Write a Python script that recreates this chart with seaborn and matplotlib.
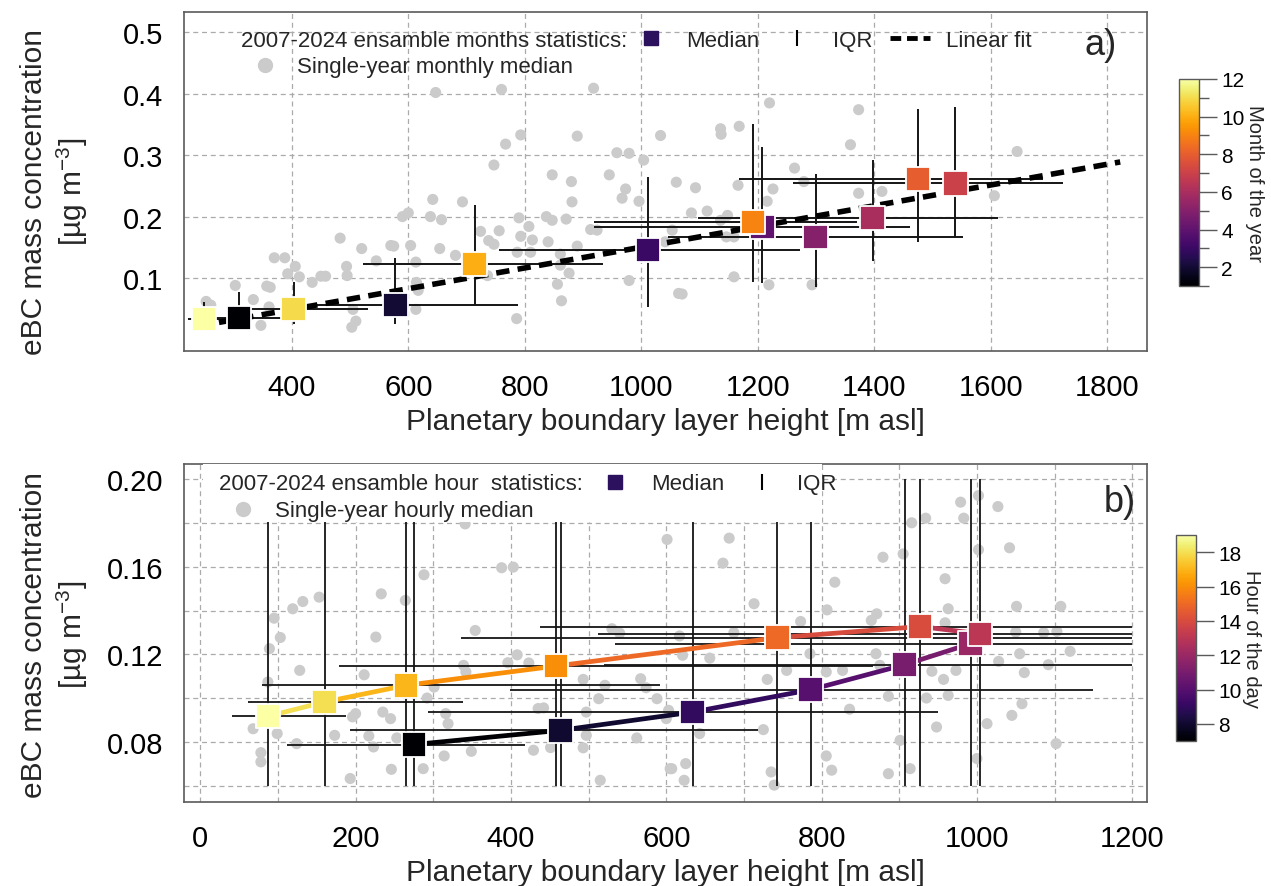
import numpy as np
import pandas as pd
import matplotlib
matplotlib.use("Agg")
import matplotlib.pyplot as plt
import seaborn as sns
from matplotlib.collections import LineCollection
from matplotlib.lines import Line2D
from matplotlib.patches import Rectangle
from matplotlib.colors import Normalize
from matplotlib.cm import ScalarMappable
from matplotlib.ticker import FixedLocator, MultipleLocator, FormatStrFormatter

# ---------------- monthly statistics (panel a) ----------------
months = [1, 2, 3, 4, 5, 6, 7, 8, 9, 10, 11, 12]
month_pblh = [309, 578, 1011, 1208, 1299, 1397, 1539, 1475, 1192, 714, 403, 249]
month_ebc = [0.035, 0.056, 0.146, 0.183, 0.167, 0.198, 0.254, 0.261, 0.191, 0.123, 0.050, 0.033]
month_pblh_q1 = [258, 430, 755, 918, 1045, 1098, 1261, 1168, 918, 522, 330, 222]
month_pblh_q3 = [381, 788, 1273, 1462, 1553, 1613, 1724, 1690, 1371, 935, 530, 300]
month_ebc_q1 = [0.020, 0.025, 0.053, 0.092, 0.085, 0.128, 0.167, 0.159, 0.094, 0.056, 0.025, 0.020]
month_ebc_q3 = [0.077, 0.133, 0.264, 0.313, 0.269, 0.292, 0.378, 0.375, 0.350, 0.219, 0.094, 0.061]
fit_range = [275, 1822]

# single-year monthly medians
yr_month_pblh = [647, 760, 918, 793, 767, 890, 1033, 747, 958, 979, 1004, 847, 945, 880, 973,
                 881, 967, 996, 1060, 642, 693, 590, 600, 638, 657, 790, 837, 847, 871, 807,
                 793, 813, 840, 890, 913, 924, 724, 756, 738, 747, 787, 810, 861, 861, 876,
                 856, 863, 979, 1064, 786, 483, 520, 570, 575, 604, 654, 681, 545, 494, 613,
                 495, 370, 388, 406, 393, 413, 435, 450, 458, 303, 357, 363, 334, 361, 347,
                 253, 261, 505, 510, 503, 614, 617, 613, 736, 1093, 1086, 1113, 1136, 1137,
                 1168, 1220, 1263, 1279, 1226, 1216, 1166, 1148, 1136, 1146, 1159, 1053, 1041,
                 1159, 1070, 1219, 1293, 1359, 1373, 1373, 1413, 1645, 1606]
yr_month_ebc = [0.402, 0.407, 0.409, 0.333, 0.318, 0.331, 0.332, 0.284, 0.304, 0.303, 0.292,
                0.268, 0.268, 0.257, 0.245, 0.224, 0.230, 0.225, 0.256, 0.228, 0.224, 0.200,
                0.206, 0.200, 0.195, 0.198, 0.200, 0.194, 0.196, 0.184, 0.168, 0.162, 0.159,
                0.152, 0.179, 0.178, 0.176, 0.177, 0.161, 0.155, 0.142, 0.142, 0.139, 0.121,
                0.108, 0.090, 0.063, 0.096, 0.075, 0.034, 0.165, 0.148, 0.153, 0.152, 0.153,
                0.148, 0.137, 0.128, 0.119, 0.126, 0.104, 0.133, 0.133, 0.119, 0.107, 0.102,
                0.093, 0.103, 0.103, 0.088, 0.087, 0.085, 0.065, 0.053, 0.023, 0.062, 0.056,
                0.049, 0.030, 0.020, 0.093, 0.080, 0.049, 0.104, 0.247, 0.206, 0.209, 0.343,
                0.334, 0.347, 0.385, 0.279, 0.257, 0.245, 0.225, 0.251, 0.202, 0.194, 0.167,
                0.167, 0.178, 0.159, 0.102, 0.074, 0.089, 0.089, 0.317, 0.374, 0.238, 0.241,
                0.306, 0.234]

# ---------------- hourly statistics (panel b) ----------------
hours = [7, 8, 9, 10, 11, 12, 13, 14, 15, 16, 17, 18, 19]
hour_pblh = [275, 464, 634, 786, 907, 992, 1004, 927, 743, 458, 265, 160, 87]
hour_ebc = [0.0789, 0.0854, 0.0937, 0.1039, 0.1153, 0.1249, 0.1294, 0.1327, 0.1276, 0.1147,
            0.1059, 0.0983, 0.0918]
hour_pblh_q1 = [111, 193, 293, 399, 520, 534, 512, 437, 336, 179, 80, 62, 41]
hour_pblh_q3 = [418, 718, 950, 1150, 1200, 1200, 1200, 1200, 1200, 866, 592, 338, 187]
hour_ebc_q1 = [0.060, 0.060, 0.060, 0.060, 0.060, 0.060, 0.060, 0.060, 0.060, 0.060, 0.060,
               0.060, 0.060]
hour_ebc_q3 = [0.200, 0.200, 0.200, 0.200, 0.200, 0.200, 0.200, 0.200, 0.200, 0.200, 0.200,
               0.200, 0.200]

# single-year hourly medians
yr_hour_pblh = [341, 601, 288, 388, 403, 233, 264, 153, 132, 119, 95, 103, 89, 128, 87, 68, 78,
                78, 99, 124, 173, 226, 211, 196, 200, 217, 223, 193, 235, 245, 253, 246, 287,
                292, 301, 316, 319, 314, 339, 342, 349, 354, 396, 408, 423, 435, 442, 429, 451,
                493, 493, 497, 513, 521, 515, 530, 540, 562, 567, 574, 588, 603, 605, 497, 681,
                673, 817, 713, 773, 807, 864, 871, 687, 617, 621, 656, 730, 755, 785, 806, 827,
                836, 600, 643, 607, 625, 623, 725, 735, 739, 806, 813, 870, 875, 886, 901, 914,
                886, 879, 905, 916, 934, 979, 983, 1002, 1027, 1002, 1042, 959, 963, 959, 942,
                957, 973, 963, 935, 1028, 1055, 1061, 1092, 1120, 1051, 1108, 1050, 1086, 1103,
                1058, 1045, 1013, 948, 1102, 1000]
yr_hour_ebc = [0.1795, 0.1724, 0.1563, 0.1595, 0.1598, 0.1476, 0.1446, 0.1461, 0.1441, 0.1408,
               0.1365, 0.1277, 0.1226, 0.1127, 0.1074, 0.0861, 0.0752, 0.0710, 0.0839, 0.0793,
               0.0831, 0.1279, 0.1107, 0.0915, 0.0930, 0.0828, 0.0778, 0.0634, 0.0937, 0.0907,
               0.0819, 0.0676, 0.0679, 0.1001, 0.1051, 0.0930, 0.0884, 0.0737, 0.1150, 0.1120,
               0.0758, 0.1309, 0.1162, 0.1198, 0.1161, 0.0953, 0.0956, 0.0763, 0.0775, 0.1086,
               0.0774, 0.0937, 0.0998, 0.1059, 0.0626, 0.1317, 0.1297, 0.0819, 0.1089, 0.1048,
               0.0998, 0.0945, 0.0679, 0.0831, 0.1730, 0.1616, 0.1529, 0.1431, 0.1350, 0.1403,
               0.1355, 0.1385, 0.1299, 0.1284, 0.1196, 0.1183, 0.1086, 0.1127, 0.1203, 0.1120,
               0.1127, 0.0950, 0.0907, 0.0839, 0.0679, 0.0702, 0.0626, 0.0857, 0.0664, 0.0604,
               0.0737, 0.0672, 0.1203, 0.1150, 0.1009, 0.0808, 0.0679, 0.0656, 0.1643, 0.1658,
               0.1800, 0.1821, 0.1894, 0.1821, 0.1924, 0.1874, 0.1677, 0.1686, 0.1545, 0.1408,
               0.1344, 0.1123, 0.1086, 0.1127, 0.1013, 0.1001, 0.1168, 0.1203, 0.1117, 0.1153,
               0.1214, 0.1419, 0.1419, 0.1302, 0.1299, 0.1305, 0.0975, 0.0922, 0.0884, 0.0869,
               0.0793, 0.0725]

# ---------------- styling ----------------
sns.set_theme(style="white")
plt.rcParams["font.family"] = ["Liberation Sans", "DejaVu Sans"]
plt.rcParams["mathtext.default"] = "regular"

GRAY = "#cbcbcb"
IQR_C = "#151515"
FRAME = "#5a5a5a"
GRID = "#ababab"
MEDIAN_LEG = "#2c115f"
cmap = plt.get_cmap("inferno")
norm_m = Normalize(1, 12)
norm_h = Normalize(7, 19)

W, H = 1271, 887
fig = plt.figure(figsize=(W / 100, H / 100), dpi=100)


def box(left, top, right, bottom):
    return [left / W, 1 - bottom / H, (right - left) / W, (bottom - top) / H]


ax1 = fig.add_axes(box(184, 13, 1147, 352))
ax2 = fig.add_axes(box(184, 465, 1147, 803))
cax1 = fig.add_axes(box(1179, 80, 1199, 287))
cax2 = fig.add_axes(box(1176, 536, 1196, 742))

# ---------------- panel a ----------------
sns.scatterplot(x=yr_month_pblh, y=yr_month_ebc, ax=ax1, color=GRAY, s=64,
                edgecolor="none", zorder=1, legend=False)
ax1.hlines(month_ebc, month_pblh_q1, month_pblh_q3, colors=IQR_C, lw=1.4, zorder=2)
ax1.vlines(month_pblh, month_ebc_q1, month_ebc_q3, colors=IQR_C, lw=1.4, zorder=2)
coef = np.polyfit(month_pblh, month_ebc, 1)
xfit = np.array(fit_range, dtype=float)
ax1.plot(xfit, np.polyval(coef, xfit), color="black", lw=4, ls=(0, (2.4, 1.5)), zorder=3)
df_m = pd.DataFrame({"pblh": month_pblh, "ebc": month_ebc, "month": months})
sns.scatterplot(data=df_m, x="pblh", y="ebc", hue="month", palette="inferno",
                hue_norm=norm_m, marker="s", s=310, edgecolor="white", linewidth=1.3,
                zorder=5, legend=False, ax=ax1)

ax1.set_xlim(215, 1868)
ax1.set_ylim(-0.0187, 0.533)
ax1.set_xticks(range(400, 1801, 200))
ax1.set_yticks([0.1, 0.2, 0.3, 0.4, 0.5])
ax1.grid(True, which="major", ls=(0, (4, 3)), color=GRID, lw=0.9)

ax1.text(0.059, 0.917, "2007-2024 ensamble months statistics:", transform=ax1.transAxes,
         ha="left", va="center", fontsize=16, zorder=7)
h_med = Line2D([], [], ls="", marker="s", color=MEDIAN_LEG, markersize=10)
h_iqr = Line2D([], [], ls="", marker="|", color="black", markersize=12, mew=1.5)
h_fit = Line2D([], [], color="black", lw=3.5, ls=(0, (2.2, 1.2)))
h_dot = Line2D([], [], ls="", marker="o", color=GRAY, markersize=10)
leg_a = ax1.legend([h_med, h_iqr, h_fit], ["Median", "IQR", "Linear fit"], ncol=3,
                   loc="center left", bbox_to_anchor=(0.464, 0.917), frameon=False,
                   fontsize=16, handlelength=1.8, handletextpad=0.7, columnspacing=0.8,
                   borderpad=0, borderaxespad=0)
ax1.add_artist(leg_a)
ax1.legend([h_dot], ["Single-year monthly median"], loc="center left",
           bbox_to_anchor=(0.0727, 0.838), frameon=False, fontsize=16, handlelength=1.0,
           handletextpad=0.95, borderpad=0, borderaxespad=0)
ax1.text(0.952, 0.905, "a)", transform=ax1.transAxes, ha="center", va="center", fontsize=26)

# ---------------- panel b ----------------
sns.scatterplot(x=yr_hour_pblh, y=yr_hour_ebc, ax=ax2, color=GRAY, s=64,
                edgecolor="none", zorder=1, legend=False)
ax2.hlines(hour_ebc, hour_pblh_q1, hour_pblh_q3, colors=IQR_C, lw=1.3, zorder=2)
ax2.vlines(hour_pblh, hour_ebc_q1, hour_ebc_q3, colors=IQR_C, lw=1.3, zorder=2)
ax2.add_patch(Rectangle((0.0197, 0.828), 0.643, 0.172, transform=ax2.transAxes,
                        facecolor="white", edgecolor="none", zorder=3))
pts = np.column_stack([hour_pblh, hour_ebc])
segs = np.stack([pts[:-1], pts[1:]], axis=1)
ax2.add_collection(LineCollection(segs, colors=cmap(norm_h(np.array(hours[:-1]))),
                                  linewidths=3.4, capstyle="butt", zorder=4))
df_h = pd.DataFrame({"pblh": hour_pblh, "ebc": hour_ebc, "hour": hours})
sns.scatterplot(data=df_h, x="pblh", y="ebc", hue="hour", palette="inferno",
                hue_norm=norm_h, marker="s", s=310, edgecolor="white", linewidth=1.3,
                zorder=5, legend=False, ax=ax2)

ax2.set_xlim(-21, 1219)
ax2.set_ylim(0.0527, 0.2068)
ax2.set_xticks(range(0, 1201, 200))
ax2.xaxis.set_minor_locator(MultipleLocator(100))
ax2.set_yticks([0.08, 0.12, 0.16, 0.20])
ax2.yaxis.set_minor_locator(FixedLocator([0.06, 0.10, 0.14, 0.18]))
ax2.yaxis.set_major_formatter(FormatStrFormatter("%.2f"))
ax2.grid(True, which="both", ls=(0, (4, 3)), color=GRID, lw=0.9)

ax2.text(0.0363, 0.941, "2007-2024 ensamble hour  statistics:", transform=ax2.transAxes,
         ha="left", va="center", fontsize=16, zorder=7)
leg_b = ax2.legend([h_med, h_iqr], ["Median", "IQR"], ncol=2, loc="center left",
                   bbox_to_anchor=(0.427, 0.941), frameon=False, fontsize=16,
                   handlelength=1.8, handletextpad=0.7, columnspacing=0.8,
                   borderpad=0, borderaxespad=0)
ax2.add_artist(leg_b)
ax2.legend([h_dot], ["Single-year hourly median"], loc="center left",
           bbox_to_anchor=(0.0498, 0.861), frameon=False, fontsize=16, handlelength=1.0,
           handletextpad=0.95, borderpad=0, borderaxespad=0)
ax2.text(0.972, 0.888, "b)", transform=ax2.transAxes, ha="center", va="center", fontsize=26)

# ---------------- shared axis cosmetics ----------------
ylab = "eBC mass concentration\n[µg m$^{-3}$]"
xlab = "Planetary boundary layer height [m asl]"
for ax, ycen in ((ax1, 0.472), (ax2, 0.497)):
    ax.set_axisbelow(True)
    ax.set_xlabel(xlab, fontsize=21.5, labelpad=4)
    ax.set_ylabel(ylab, fontsize=21.5, linespacing=1.25)
    ax.yaxis.set_label_coords(-0.098, ycen)
    for sp in ax.spines.values():
        sp.set_color(FRAME)
        sp.set_linewidth(1.2)
    ax.tick_params(which="both", direction="out", colors=FRAME, labelcolor="black",
                   labelsize=21, width=1)
    ax.tick_params(axis="x", which="both", length=10, pad=6)
    ax.tick_params(axis="y", which="both", length=9, pad=6)

# ---------------- colour bars ----------------
cb1 = fig.colorbar(ScalarMappable(norm=norm_m, cmap=cmap), cax=cax1)
cb1.set_ticks([2, 4, 6, 8, 10, 12])
cax1.yaxis.set_minor_locator(FixedLocator([1, 3, 5, 7, 9, 11]))
cb1.set_label("Month of the year", rotation=270, fontsize=14.5, labelpad=14)

cb2 = fig.colorbar(ScalarMappable(norm=norm_h, cmap=cmap), cax=cax2)
cb2.set_ticks([8, 10, 12, 14, 16, 18])
cb2.set_label("Hour of the day", rotation=270, fontsize=14.5, labelpad=14)

for cb, cax in ((cb1, cax1), (cb2, cax2)):
    cb.outline.set_edgecolor(FRAME)
    cb.outline.set_linewidth(1)
    cax.tick_params(which="major", length=13, width=1, colors=FRAME, labelcolor="black",
                    labelsize=15, pad=3)
    cax.tick_params(which="minor", length=7, width=1, colors=FRAME)

fig.savefig("out.png", dpi=100, facecolor="white")
